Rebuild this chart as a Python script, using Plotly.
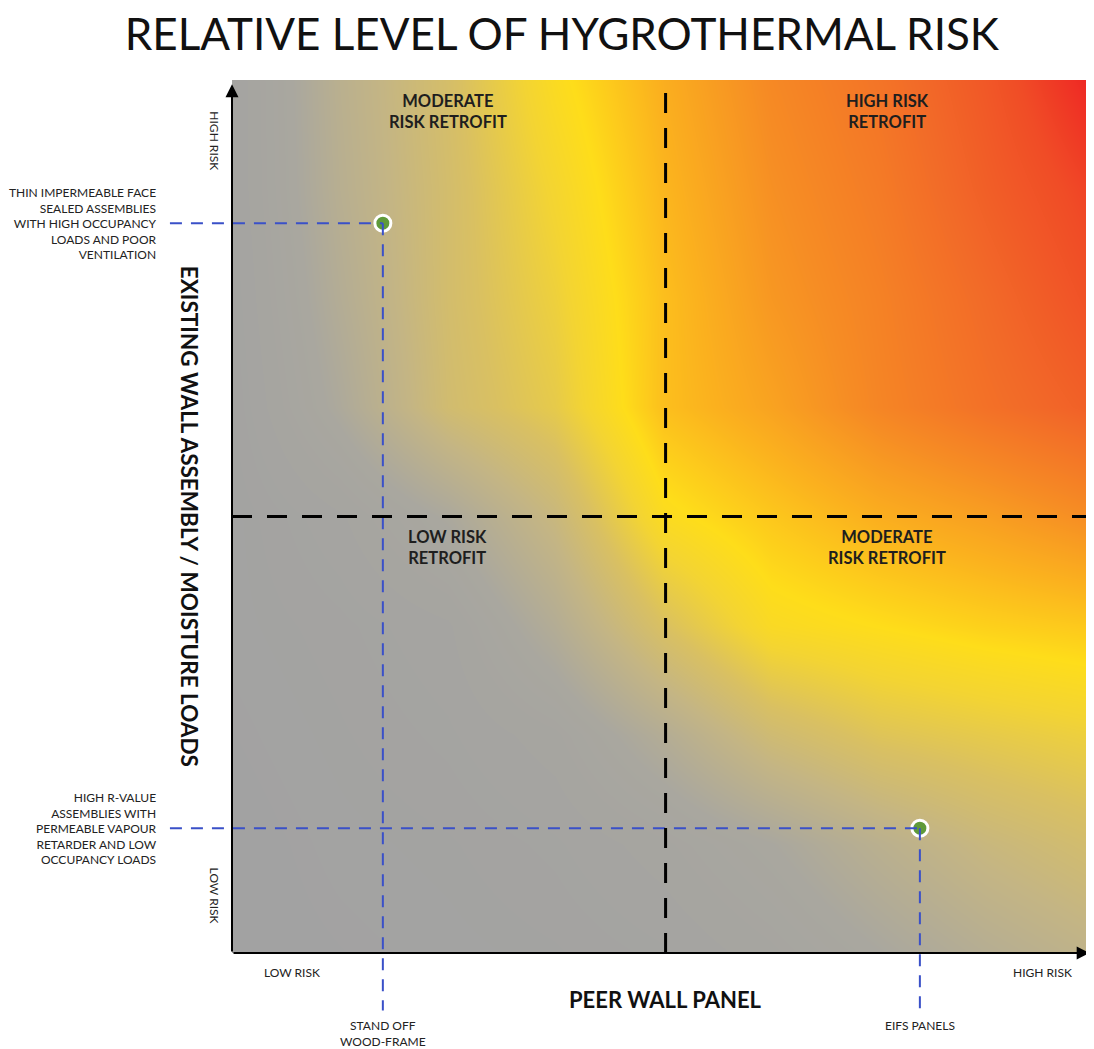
import plotly.graph_objects as go

# Background risk field on a coarse 9x9 grid (0 = low, 1 = high)
grid_x = [0, 0.125, 0.25, 0.375, 0.5, 0.625, 0.75, 0.875, 1]
grid_y = [0, 0.125, 0.25, 0.375, 0.5, 0.625, 0.75, 0.875, 1]
risk = [
    [0.00, 0.01, 0.02, 0.03, 0.05, 0.09, 0.15, 0.21, 0.26],
    [0.00, 0.02, 0.03, 0.05, 0.09, 0.15, 0.23, 0.30, 0.35],
    [0.01, 0.03, 0.05, 0.09, 0.20, 0.33, 0.40, 0.43, 0.46],
    [0.02, 0.04, 0.07, 0.20, 0.38, 0.52, 0.55, 0.58, 0.60],
    [0.02, 0.07, 0.16, 0.30, 0.53, 0.60, 0.66, 0.70, 0.75],
    [0.03, 0.17, 0.34, 0.43, 0.62, 0.69, 0.77, 0.83, 0.88],
    [0.04, 0.20, 0.35, 0.46, 0.62, 0.72, 0.78, 0.85, 0.92],
    [0.05, 0.22, 0.35, 0.49, 0.64, 0.74, 0.80, 0.88, 0.95],
    [0.05, 0.23, 0.36, 0.53, 0.66, 0.76, 0.82, 0.90, 1.00],
]

# Example assemblies
point_x = [0.175, 0.798]
point_y = [0.836, 0.143]
x_labels = ["STAND OFF<br>WOOD-FRAME", "EIFS PANELS"]
y_labels = [
    "THIN IMPERMEABLE FACE<br>SEALED ASSEMBLIES<br>WITH HIGH OCCUPANCY<br>LOADS AND POOR<br>VENTILATION",
    "HIGH R-VALUE<br>ASSEMBLIES WITH<br>PERMEABLE VAPOUR<br>RETARDER AND LOW<br>OCCUPANCY LOADS",
]

quadrant_x = [0.25, 0.76, 0.25, 0.76]
quadrant_y = [0.99, 0.99, 0.49, 0.49]
quadrant_text = ["MODERATE<br>RISK RETROFIT", "HIGH RISK<br>RETROFIT",
                 "LOW RISK<br>RETROFIT", "MODERATE<br>RISK RETROFIT"]

FONT = "Lato"
colorscale = [
    [0.00, "#a2a2a2"],
    [0.15, "#a9a79f"],
    [0.28, "#c4b584"],
    [0.38, "#d9c062"],
    [0.48, "#f3d433"],
    [0.55, "#fedd1a"],
    [0.65, "#fbb21e"],
    [0.75, "#f68c24"],
    [0.85, "#f26a28"],
    [0.93, "#f04c26"],
    [1.00, "#ee2424"],
]

fig = go.Figure()
fig.add_trace(go.Heatmap(
    x=grid_x, y=grid_y, z=risk,
    colorscale=colorscale, zmin=0, zmax=1,
    zsmooth="best", showscale=False, hoverinfo="skip",
))

# blue guide lines from each point to its labels (outside the plot -> paper refs)
blue = "#3a50c8"
for px, py in zip(point_x, point_y):
    fig.add_shape(type="line", xref="paper", yref="paper",
                  x0=-0.072, x1=px, y0=py, y1=py,
                  line=dict(color=blue, width=2, dash="12px,9px"))
    fig.add_shape(type="line", xref="paper", yref="paper",
                  x0=px, x1=px, y0=py, y1=-0.066,
                  line=dict(color=blue, width=2, dash="12px,9px"))

# quadrant dividers
fig.add_shape(type="line", xref="x", yref="y", x0=0.503, x1=0.503, y0=0, y1=1,
              line=dict(color="black", width=3, dash="20px,15px"))
fig.add_shape(type="line", xref="x", yref="y", x0=0, x1=1, y0=0.5, y1=0.5,
              line=dict(color="black", width=3, dash="20px,15px"))

fig.add_trace(go.Scatter(
    x=point_x, y=point_y, mode="markers",
    marker=dict(size=16, color="#5f9a3a", line=dict(color="white", width=3)),
    hoverinfo="skip", showlegend=False, cliponaxis=False,
))

# axis arrows
fig.add_annotation(x=0, y=0.995, ax=0, ay=0, xref="x", yref="y", axref="x", ayref="y",
                   showarrow=True, arrowhead=2, arrowsize=1.3, arrowwidth=2, arrowcolor="black", text="")
fig.add_annotation(x=0.995, y=0, ax=0, ay=0, xref="x", yref="y", axref="x", ayref="y",
                   showarrow=True, arrowhead=2, arrowsize=1.3, arrowwidth=2, arrowcolor="black", text="")

for qx, qy, qt in zip(quadrant_x, quadrant_y, quadrant_text):
    fig.add_annotation(x=qx, y=qy, xref="x", yref="y", text=qt, showarrow=False,
                       xanchor="center", yanchor="top",
                       font=dict(family=FONT, size=16.5, color="#1e1e1e", weight="bold"))

for px, lbl in zip(point_x, x_labels):
    fig.add_annotation(x=px, y=-0.072, xref="x", yref="paper", text=lbl, showarrow=False,
                       xanchor="center", yanchor="top", font=dict(family=FONT, size=12, color="#222"))
for py, lbl in zip(point_y, y_labels):
    fig.add_annotation(x=-0.085, y=py, xref="paper", yref="y", text=lbl, showarrow=False,
                       xanchor="right", align="right", font=dict(family=FONT, size=12, color="#222"))

small = dict(family=FONT, size=12, color="#222")
fig.add_annotation(x=0.07, y=-0.011, xref="paper", yref="paper", text="LOW RISK",
                   showarrow=False, xanchor="center", yanchor="top", font=small)
fig.add_annotation(x=0.94, y=-0.011, xref="paper", yref="paper", text="HIGH RISK",
                   showarrow=False, xanchor="center", yanchor="top", font=small)
fig.add_annotation(x=-0.02, y=0.93, xref="paper", yref="paper", text="HIGH RISK",
                   showarrow=False, xanchor="center", yanchor="middle", textangle=90, font=small)
fig.add_annotation(x=-0.02, y=0.066, xref="paper", yref="paper", text="LOW RISK",
                   showarrow=False, xanchor="center", yanchor="middle", textangle=90, font=small)

fig.add_annotation(x=0.503, y=-0.035, xref="paper", yref="paper", text="PEER WALL PANEL",
                   showarrow=False, xanchor="center", yanchor="top",
                   font=dict(family=FONT, size=22, color="#111", weight="bold"))
fig.add_annotation(x=-0.049, y=0.5, xref="paper", yref="paper",
                   text="EXISTING WALL ASSEMBLY / MOISTURE LOADS", showarrow=False,
                   xanchor="center", yanchor="middle",
                   textangle=90, font=dict(family=FONT, size=22.5, color="#111", weight="bold"))

fig.update_layout(
    width=1086, height=1041,
    title=dict(text="RELATIVE LEVEL OF HYGROTHERMAL RISK", x=0.51, xanchor="center",
               y=0.974, yanchor="middle", font=dict(family=FONT, size=44, color="#111")),
    margin=dict(l=224, r=0, t=72, b=96),
    xaxis=dict(range=[0, 1], visible=False, fixedrange=True),
    yaxis=dict(range=[0, 1], visible=False, fixedrange=True),
    plot_bgcolor="white", paper_bgcolor="white",
    showlegend=False,
)

fig.write_html("out.html", config={"responsive": False})
